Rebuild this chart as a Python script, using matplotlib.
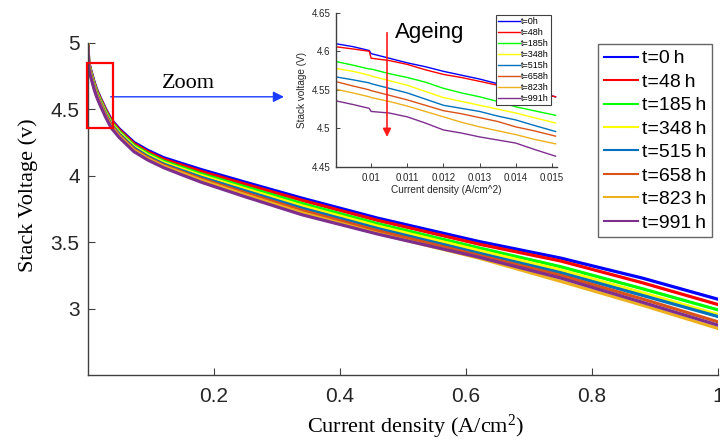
import matplotlib
matplotlib.use("Agg")
import matplotlib.pyplot as plt
from matplotlib.patches import Rectangle

plt.rcParams['mathtext.fontset'] = 'custom'
plt.rcParams['mathtext.rm'] = 'Liberation Serif'
plt.rcParams['mathtext.it'] = 'Liberation Serif:italic'

SANS = ['Liberation Sans', 'DejaVu Sans']
SERIF = ['Liberation Serif', 'DejaVu Serif']

labels_main = ["t=0\u2009h", "t=48\u2009h", "t=185\u2009h", "t=348\u2009h",
               "t=515\u2009h", "t=658\u2009h", "t=823\u2009h", "t=991\u2009h"]
labels_inset = ["t=0h", "t=48h", "t=185h", "t=348h", "t=515h", "t=658h", "t=823h", "t=991h"]
colors = ['#0000ff', '#ff0000', '#00ff00', '#ffff00',
          '#0072bd', '#d95319', '#edb120', '#7e2f8e']

# Main polarization curves
current = [0, 0.001, 0.002, 0.004, 0.007, 0.01, 0.014, 0.02, 0.028, 0.037, 0.05,
           0.073, 0.095, 0.12, 0.15, 0.18, 0.25, 0.34, 0.46, 0.62, 0.75, 0.88, 1.0]
v_0h =   [5.000, 4.870, 4.840, 4.800, 4.750, 4.700, 4.645, 4.580, 4.500, 4.420, 4.350,
          4.250, 4.190, 4.135, 4.090, 4.045, 3.950, 3.830, 3.680, 3.505, 3.380, 3.229, 3.070]
v_48h =  [5.000, 4.865, 4.835, 4.795, 4.744, 4.694, 4.639, 4.574, 4.494, 4.413, 4.342,
          4.240, 4.179, 4.123, 4.077, 4.031, 3.935, 3.814, 3.663, 3.485, 3.358, 3.194, 3.030]
v_185h = [4.995, 4.858, 4.826, 4.785, 4.734, 4.684, 4.628, 4.563, 4.482, 4.402, 4.330,
          4.228, 4.166, 4.109, 4.061, 4.013, 3.915, 3.790, 3.638, 3.457, 3.315, 3.149, 2.990]
v_348h = [4.990, 4.852, 4.820, 4.778, 4.727, 4.676, 4.620, 4.555, 4.474, 4.393, 4.321,
          4.218, 4.155, 4.098, 4.049, 4.000, 3.900, 3.772, 3.620, 3.437, 3.290, 3.119, 2.955]
v_515h = [4.990, 4.845, 4.812, 4.770, 4.719, 4.668, 4.612, 4.546, 4.465, 4.384, 4.311,
          4.208, 4.144, 4.087, 4.037, 3.987, 3.885, 3.755, 3.602, 3.417, 3.270, 3.099, 2.940]
v_658h = [4.985, 4.840, 4.806, 4.763, 4.711, 4.660, 4.604, 4.538, 4.456, 4.375, 4.302,
          4.198, 4.135, 4.078, 4.026, 3.975, 3.870, 3.738, 3.585, 3.400, 3.250, 3.072, 2.900]
v_823h = [4.980, 4.834, 4.800, 4.757, 4.705, 4.653, 4.597, 4.530, 4.448, 4.367, 4.294,
          4.190, 4.127, 4.070, 4.017, 3.965, 3.855, 3.720, 3.565, 3.380, 3.205, 3.025, 2.850]
v_991h = [4.970, 4.825, 4.792, 4.750, 4.697, 4.645, 4.589, 4.522, 4.440, 4.358, 4.285,
          4.180, 4.117, 4.060, 4.004, 3.950, 3.840, 3.705, 3.560, 3.387, 3.230, 3.047, 2.875]
main_series = [v_0h, v_48h, v_185h, v_348h, v_515h, v_658h, v_823h, v_991h]

# Zoomed (inset) curves
current_zoom = [0.009, 0.0095, 0.00995, 0.0100, 0.0105, 0.011, 0.0115, 0.012,
                0.0125, 0.013, 0.0135, 0.014, 0.0145, 0.0151]
z_0h = [4.610, 4.606, 4.601, 4.597, 4.591, 4.585, 4.580, 4.574, 4.569, 4.564, 4.558, 4.554, 4.548, 4.541]
z_48h = [4.606, 4.603, 4.600, 4.591, 4.588, 4.583, 4.576, 4.570, 4.566, 4.561, 4.556, 4.553, 4.547, 4.541]
z_185h = [4.587, 4.582, 4.577, 4.577, 4.571, 4.566, 4.560, 4.552, 4.546, 4.541, 4.535, 4.528, 4.523, 4.517]
z_348h = [4.578, 4.574, 4.569, 4.568, 4.562, 4.556, 4.548, 4.540, 4.535, 4.530, 4.525, 4.520, 4.514, 4.507]
z_515h = [4.567, 4.563, 4.559, 4.558, 4.552, 4.546, 4.538, 4.530, 4.526, 4.522, 4.516, 4.511, 4.504, 4.496]
z_658h = [4.561, 4.555, 4.550, 4.549, 4.543, 4.537, 4.530, 4.523, 4.519, 4.514, 4.509, 4.502, 4.497, 4.490]
z_823h = [4.551, 4.546, 4.541, 4.540, 4.535, 4.529, 4.522, 4.515, 4.508, 4.502, 4.497, 4.492, 4.486, 4.480]
z_991h = [4.536, 4.531, 4.526, 4.522, 4.520, 4.515, 4.507, 4.498, 4.494, 4.489, 4.485, 4.481, 4.473, 4.464]
zoom_series = [z_0h, z_48h, z_185h, z_348h, z_515h, z_658h, z_823h, z_991h]

main_xticks = [0.2, 0.4, 0.6, 0.8, 1]
main_xticklabels = ['0.2', '0.4', '0.6', '0.8', '1']
main_yticks = [3, 3.5, 4, 4.5, 5]
main_yticklabels = ['3', '3.5', '4', '4.5', '5']
zoom_xticks = [0.01, 0.011, 0.012, 0.013, 0.014, 0.015]
zoom_xticklabels = ['0.01', '0.011', '0.012', '0.013', '0.014', '0.015']
zoom_yticks = [4.45, 4.5, 4.55, 4.6, 4.65]
zoom_yticklabels = ['4.45', '4.5', '4.55', '4.6', '4.65']

W, H = 720, 441
fig = plt.figure(figsize=(7.2, 4.41), dpi=100)
AX = '#404040'
TXT = '#262626'

ax = fig.add_axes([88 / W, 1 - 375 / H, 630 / W, (375 - 42.7) / H])
for vals, c, lab in zip(main_series, colors, labels_main):
    ax.plot(current, vals, color=c, lw=2.3, label=lab, solid_joinstyle='round')
ax.set_xlim(0, 1)
ax.set_ylim(2.5, 5)
for s in ['top', 'right']:
    ax.spines[s].set_visible(False)
for s in ['left', 'bottom']:
    ax.spines[s].set_color(AX)
    ax.spines[s].set_linewidth(1.0)
ax.set_xticks(main_xticks)
ax.set_xticklabels(main_xticklabels)
ax.set_yticks(main_yticks)
ax.set_yticklabels(main_yticklabels)
ax.tick_params(direction='in', length=5, width=0.8, color=AX, labelcolor=TXT, labelsize=15)
ax.tick_params(axis='y', pad=6)
ax.tick_params(axis='x', pad=9)
for t in ax.get_xticklabels() + ax.get_yticklabels():
    t.set_fontfamily(SANS)
ax.set_xlabel('Current density (A/cm$^2$)', fontsize=16, family=SERIF)
ax.set_ylabel('Stack Voltage (v)', fontsize=16, family=SERIF)
ax.xaxis.set_label_coords(0.52, -0.114)
ax.yaxis.set_label_coords(-0.08, 0.54)

# red zoom box
ax.add_patch(Rectangle((-0.002, 4.361), 0.041, 4.851 - 4.361, fill=False,
                       ec='#ff0000', lw=1.6, clip_on=False, zorder=5))
ax.annotate('', xy=(0.311, 4.593), xytext=(0.036, 4.593),
            arrowprops=dict(arrowstyle='-|>', color='#1a3cff', lw=1.0,
                            mutation_scale=16, shrinkA=0, shrinkB=0))
ax.text(0.16, 4.69, 'Zoom', fontsize=16, family=SERIF, ha='center', va='center')

leg = ax.legend(loc='upper left', bbox_to_anchor=(598 / W, 1 - 44 / H),
                bbox_transform=fig.transFigure, prop={'family': SANS, 'size': 14},
                handlelength=1.75, handletextpad=0.2, labelspacing=0.3,
                borderpad=0.3, borderaxespad=0, frameon=True, fancybox=False)
leg.get_frame().set_edgecolor(AX)
leg.get_frame().set_linewidth(1.0)
for l in leg.get_lines():
    l.set_linewidth(1.5)

# inset
axi = fig.add_axes([336 / W, 1 - 167 / H, 221 / W, (167 - 12.7) / H])
for vals, c, lab in zip(zoom_series, colors, labels_inset):
    axi.plot(current_zoom, vals, color=c, lw=1.0, label=lab)
axi.set_xlim(0.00903, 0.01514)
axi.set_ylim(4.45, 4.65)
for s in ['top', 'right']:
    axi.spines[s].set_visible(False)
for s in ['left', 'bottom']:
    axi.spines[s].set_color(AX)
    axi.spines[s].set_linewidth(1.0)
axi.set_xticks(zoom_xticks)
axi.set_xticklabels(zoom_xticklabels)
axi.set_yticks(zoom_yticks)
axi.set_yticklabels(zoom_yticklabels)
axi.tick_params(direction='in', length=3, width=0.7, color=AX, labelcolor=TXT, labelsize=7, pad=4)
for t in axi.get_xticklabels() + axi.get_yticklabels():
    t.set_fontfamily(SANS)
axi.set_xlabel('Current density (A/cm^2)', fontsize=7.2, family=SANS, color=TXT, labelpad=2)
axi.set_ylabel('Stack voltage (V)', fontsize=7.2, family=SANS, color=TXT, labelpad=3)
axi.annotate('', xy=(0.01044, 4.489), xytext=(0.01044, 4.624),
             arrowprops=dict(arrowstyle='-|>', color='#ff1a1a', lw=1.2,
                             mutation_scale=12, shrinkA=0, shrinkB=0))
axi.text(0.01067, 4.624, 'Ageing', fontsize=16, family=SANS, ha='left', va='center')
legi = axi.legend(loc='upper right', bbox_to_anchor=(551 / W, 1 - 15 / H),
                  bbox_transform=fig.transFigure, prop={'family': SANS, 'size': 6.5},
                  handlelength=2.4, handletextpad=0.1, labelspacing=0.22,
                  borderpad=0.25, borderaxespad=0, frameon=True, fancybox=False)
legi.get_frame().set_edgecolor(AX)
legi.get_frame().set_linewidth(0.8)
legi.get_frame().set_alpha(1)

fig.savefig('out.png', dpi=100)
